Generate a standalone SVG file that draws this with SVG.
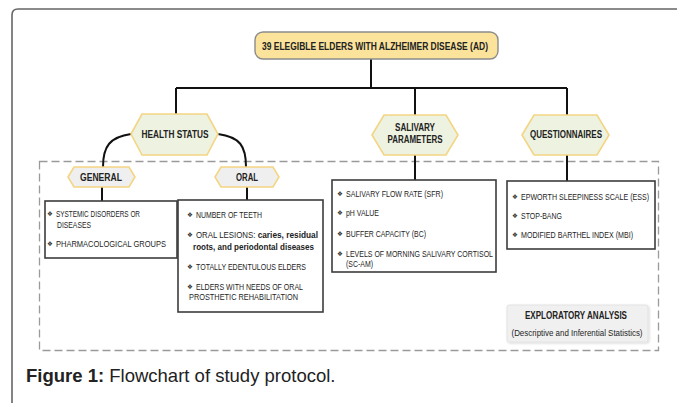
<svg xmlns="http://www.w3.org/2000/svg" width="677" height="403" viewBox="0 0 677 403">
<style>
.frame{fill:none;stroke:#666;stroke-width:1.6}
.dash{fill:none;stroke:#9a9a9a;stroke-width:1.3;stroke-dasharray:8 4}
.conn{fill:none;stroke:#111;stroke-width:2}
.hexA{fill:#eef2e1;stroke:#f3d583;stroke-width:1.6}
.hexB{fill:#efefef;stroke:#f3d583;stroke-width:1.6}
.box{fill:#fff;stroke:#3c3c3c;stroke-width:1.6}
.lbl{font-family:"Liberation Sans",Arial,sans-serif;font-weight:bold;font-size:10px;fill:#222;text-anchor:middle;dominant-baseline:central}
.t{font-family:"Liberation Sans",Arial,sans-serif;font-size:8.8px;fill:#1e1e1e;dominant-baseline:central}
.b{font-weight:bold;font-size:9.3px;fill:#222}
.bul{font-family:"DejaVu Sans",sans-serif;font-size:6.5px;fill:#333;dominant-baseline:central}
</style>
<defs>
<filter id="sh" x="-10%" y="-10%" width="120%" height="130%">
<feDropShadow dx="1" dy="1" stdDeviation="1" flood-color="#000" flood-opacity="0.15"/>
</filter>
</defs>
<rect x="0" y="0" width="677" height="403" fill="#fff"/>
<path class="frame" d="M12,404 V15 Q12,9 18,9 H678"/>
<rect class="dash" x="39.5" y="161.5" width="619" height="189"/>

<g id="connectors">
<path class="conn" d="M371,59 V88 M176,88 H567 M176,88 V114 M415,88 V115 M567,88 V115"/>
<path class="conn" d="M131,134 C110,137 103,146 103,167"/>
<path class="conn" d="M218,134 C240,137 246,146 246,167"/>
<path class="conn" d="M102,187 V201 M247,187 V200 M415,155 V180 M567,155 V181"/>
</g>

<g id="top">
<rect x="255" y="32" width="243" height="27" rx="8" fill="#fbe39c" stroke="#8c8c8c" stroke-width="1.4"/>
<text class="lbl" x="375" y="46" textLength="226" lengthAdjust="spacingAndGlyphs">39 ELEGIBLE ELDERS WITH ALZHEIMER DISEASE (AD)</text>
</g>

<g id="health">
<polygon class="hexA" points="131,134 142,114 207,114 218,134 207,155 142,155"/>
<text class="lbl" x="175" y="134" textLength="67" lengthAdjust="spacingAndGlyphs">HEALTH  STATUS</text>
</g>

<g id="salivary">
<polygon class="hexA" points="372,135 384,115 446,115 458,135 446,155 384,155"/>
<text class="lbl" x="415" y="127" textLength="40" lengthAdjust="spacingAndGlyphs">SALIVARY</text>
<text class="lbl" x="415" y="139" textLength="55" lengthAdjust="spacingAndGlyphs">PARAMETERS</text>
</g>

<g id="questionnaires">
<polygon class="hexA" points="522,135 534,115 597,115 609,135 597,155 534,155"/>
<text class="lbl" x="566" y="134" textLength="72" lengthAdjust="spacingAndGlyphs">QUESTIONNAIRES</text>
</g>

<g id="general">
<polygon class="hexB" points="68,177 74,167 129,167 135,177 129,187 74,187"/>
<text class="lbl" x="101" y="177" textLength="42" lengthAdjust="spacingAndGlyphs">GENERAL</text>
</g>

<g id="oral">
<polygon class="hexB" points="215,177 221,167 273,167 279,177 273,187 221,187"/>
<text class="lbl" x="247" y="177" textLength="22" lengthAdjust="spacingAndGlyphs">ORAL</text>
</g>

<g id="general-box">
<rect class="box" x="45" y="201" width="132" height="57"/>
<text class="bul" x="47" y="214">❖</text>
<text class="t" x="56" y="214" textLength="84" lengthAdjust="spacingAndGlyphs">SYSTEMIC DISORDERS OR</text>
<text class="t" x="57" y="225" textLength="34" lengthAdjust="spacingAndGlyphs">DISEASES</text>
<text class="bul" x="47" y="244">❖</text>
<text class="t" x="56" y="244" textLength="110" lengthAdjust="spacingAndGlyphs">PHARMACOLOGICAL GROUPS</text>
</g>

<g id="oral-box">
<rect class="box" x="178" y="200" width="145" height="112"/>
<text class="bul" x="187" y="215">❖</text>
<text class="t" x="196" y="215" textLength="66" lengthAdjust="spacingAndGlyphs">NUMBER OF TEETH</text>
<text class="bul" x="187" y="235">❖</text>
<text class="t" x="196" y="235" textLength="122" lengthAdjust="spacingAndGlyphs">ORAL LESIONS: <tspan class="b">caries, residual</tspan></text>
<text class="t b" x="193" y="247" textLength="121" lengthAdjust="spacingAndGlyphs">roots, and periodontal diseases</text>
<text class="bul" x="187" y="267">❖</text>
<text class="t" x="196" y="267" textLength="110" lengthAdjust="spacingAndGlyphs">TOTALLY EDENTULOUS ELDERS</text>
<text class="bul" x="187" y="287">❖</text>
<text class="t" x="196" y="287" textLength="107" lengthAdjust="spacingAndGlyphs">ELDERS WITH NEEDS OF ORAL</text>
<text class="t" x="189" y="297" textLength="109" lengthAdjust="spacingAndGlyphs">PROSTHETIC REHABILITATION</text>
</g>

<g id="salivary-box">
<rect class="box" x="332" y="180" width="164" height="92"/>
<text class="bul" x="337" y="194">❖</text>
<text class="t" x="346" y="194" textLength="97" lengthAdjust="spacingAndGlyphs">SALIVARY FLOW RATE (SFR)</text>
<text class="bul" x="337" y="213">❖</text>
<text class="t" x="346" y="213" textLength="33" lengthAdjust="spacingAndGlyphs">pH VALUE</text>
<text class="bul" x="337" y="234">❖</text>
<text class="t" x="346" y="234" textLength="80" lengthAdjust="spacingAndGlyphs">BUFFER CAPACITY (BC)</text>
<text class="bul" x="337" y="254">❖</text>
<text class="t" x="346" y="254" textLength="147" lengthAdjust="spacingAndGlyphs">LEVELS OF MORNING SALIVARY CORTISOL</text>
<text class="t" x="346" y="264" textLength="27" lengthAdjust="spacingAndGlyphs">(SC-AM)</text>
</g>

<g id="questionnaires-box">
<rect class="box" x="507" y="181" width="148" height="68"/>
<text class="bul" x="512" y="197">❖</text>
<text class="t" x="521" y="197" font-size="8" textLength="128" lengthAdjust="spacingAndGlyphs">EPWORTH SLEEPINESS SCALE (ESS)</text>
<text class="bul" x="512" y="216">❖</text>
<text class="t" x="521" y="216" textLength="41" lengthAdjust="spacingAndGlyphs">STOP-BANG</text>
<text class="bul" x="512" y="235">❖</text>
<text class="t" x="521" y="235" textLength="112" lengthAdjust="spacingAndGlyphs">MODIFIED BARTHEL INDEX (MBI)</text>
</g>

<g id="exploratory">
<rect x="507" y="305" width="141" height="37" rx="2" fill="#f0f0f0" stroke="#e2e2e2" stroke-width="1" filter="url(#sh)"/>
<text class="lbl" x="576" y="315" textLength="102" lengthAdjust="spacingAndGlyphs">EXPLORATORY ANALYSIS</text>
<text class="t" x="577" y="333" text-anchor="middle" font-size="9.5" textLength="131" lengthAdjust="spacingAndGlyphs">(Descriptive and Inferential Statistics)</text>
</g>

<text x="26" y="382" font-family="Liberation Sans,Arial,sans-serif" font-size="18.5" fill="#222"><tspan font-weight="bold">Figure 1:</tspan> Flowchart of study protocol.</text>
</svg>
